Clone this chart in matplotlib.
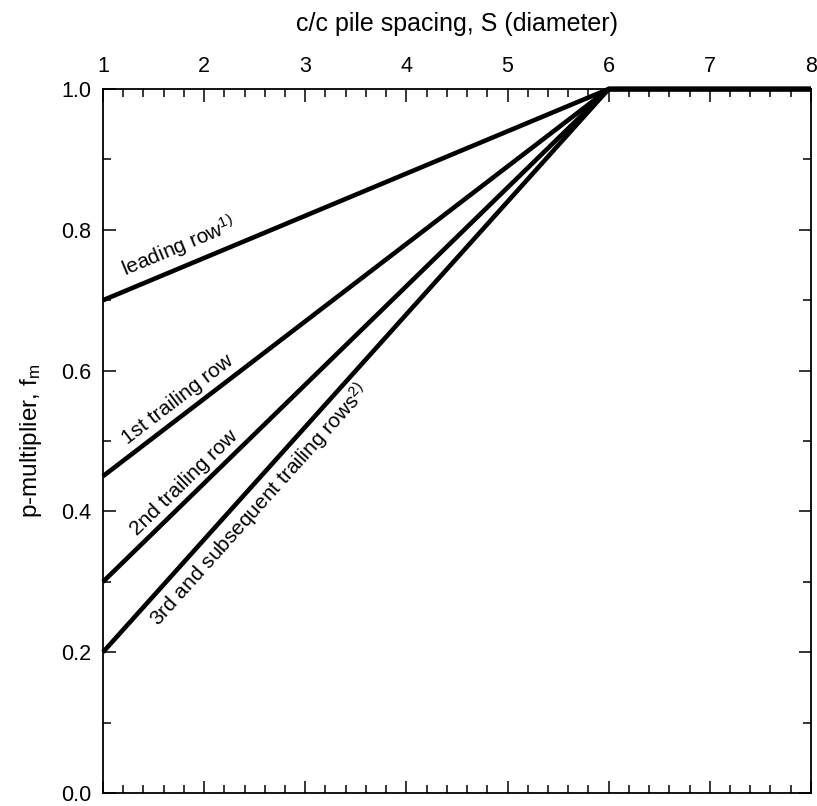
import numpy as np
import matplotlib.pyplot as plt

plt.rcParams['font.family'] = ['Liberation Sans', 'DejaVu Sans']
plt.rcParams['mathtext.fontset'] = 'custom'
plt.rcParams['mathtext.rm'] = 'Liberation Sans'
plt.rcParams['mathtext.it'] = 'Liberation Sans'

# p-multiplier vs. centre-to-centre spacing for each row position
spacing = [1, 6, 8]
leading_row = [0.70, 1.0, 1.0]
first_trailing = [0.45, 1.0, 1.0]
second_trailing = [0.30, 1.0, 1.0]
third_trailing = [0.20, 1.0, 1.0]

rows = [leading_row, first_trailing, second_trailing, third_trailing]
labels = ['leading row$^{1)}$', '1st trailing row', '2nd trailing row',
          '3rd and subsequent trailing rows$^{2)}$']
label_x = [1.80, 1.80, 1.87, 2.45]
label_side = ['bottom', 'bottom', 'bottom', 'top']

fig = plt.figure(figsize=(8.17, 8.06), dpi=100)
ax = fig.add_axes([0.126, 0.0161, 0.8666, 0.8734])

for fm in rows:
    ax.plot(spacing, fm, color='black', lw=3.3, solid_capstyle='butt', clip_on=False)

ax.set_xlim(1, 8)
ax.set_ylim(0, 1.0)
ax.set_xticks(np.arange(1, 9, 1))
ax.set_xticks(np.arange(1, 8.01, 0.2), minor=True)
ax.set_yticks(np.arange(0, 1.01, 0.2))
ax.set_yticks(np.arange(0, 1.01, 0.1), minor=True)
ax.yaxis.set_major_formatter(plt.FormatStrFormatter('%.1f'))

ax.tick_params(which='both', direction='in', top=True, bottom=True, left=True, right=True,
               labeltop=True, labelbottom=False, labelsize=15.5, width=1.1, pad=8.5)
ax.tick_params(which='major', length=9)
ax.tick_params(which='minor', length=5.5)
for s in ax.spines.values():
    s.set_linewidth(1.3)

ax.xaxis.set_label_position('top')
ax.set_xlabel('c/c pile spacing, S (diameter)', fontsize=18, labelpad=18)
ax.set_ylabel('p-multiplier, f$_{\\mathrm{m}}$', fontsize=17.5, labelpad=12)

# labels run along each line
fig.canvas.draw()
for fm, txt, lx, side in zip(rows, labels, label_x, label_side):
    slope = (fm[1] - fm[0]) / (spacing[1] - spacing[0])
    ly = fm[0] + slope * (lx - spacing[0])
    ang = np.degrees(np.arctan2(fm[1] - fm[0], spacing[1] - spacing[0]))
    rot = ax.transData.transform_angles(np.array([ang]), np.array([[lx, ly]]))[0]
    off = 5 if side == 'bottom' else -5
    ax.annotate(txt, (lx, ly), xytext=(0, off), textcoords='offset points',
                rotation=rot, rotation_mode='anchor', ha='center', va=side, fontsize=15)

fig.savefig('out.png', dpi=100)
